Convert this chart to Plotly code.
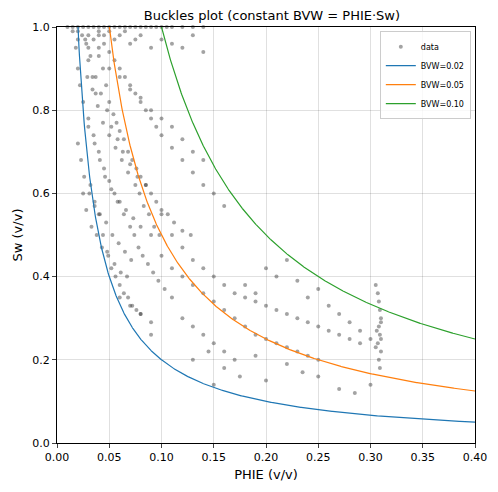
import numpy as np
import plotly.graph_objects as go

# core-ish data points (PHIE, Sw)
phie = [
 0.01,0.015,0.02,0.025,0.03,0.035,0.04,0.045,0.05,0.055,0.06,0.065,0.07,0.075,0.08,0.085,0.09,0.095,0.10,0.105,0.11,0.12,0.13,0.14,
 0.018,0.02,0.022,0.025,0.027,0.03,0.032,0.035,0.037,0.04,0.042,0.045,0.048,0.05,0.052,0.055,0.058,0.06,0.063,0.066,0.07,0.073,0.077,0.08,0.085,0.09,
 0.02,0.023,0.026,0.029,0.031,0.034,0.036,0.039,0.041,0.044,0.047,0.05,0.053,0.056,0.059,0.062,0.065,0.068,0.071,0.075,0.079,0.083,0.088,0.093,0.098,
 0.025,0.028,0.03,0.033,0.036,0.038,0.041,0.043,0.046,0.049,0.052,0.055,0.058,0.061,0.064,0.067,0.07,0.074,0.078,0.082,0.087,0.092,0.097,0.103,0.11,
 0.03,0.034,0.037,0.04,0.044,0.047,0.05,0.054,0.057,0.06,0.064,0.068,0.072,0.076,0.08,0.085,0.09,0.095,0.1,0.106,0.112,0.12,0.128,
 0.04,0.045,0.05,0.055,0.06,0.065,0.07,0.075,0.08,0.085,0.09,0.095,0.1,0.11,0.12,0.13,0.14,0.15,0.16,
 0.06,0.07,0.08,0.09,0.1,0.11,0.12,0.13,0.14,0.15,0.16,0.17,0.18,0.19,0.2,0.21,0.22,0.23,0.24,0.25,
 0.09,0.1,0.11,0.12,0.13,0.14,0.15,0.16,0.17,0.18,0.19,0.2,0.21,0.22,0.23,0.24,0.25,0.26,0.27,0.28,0.29,
 0.12,0.13,0.14,0.15,0.16,0.17,0.18,0.19,0.2,0.21,0.22,0.23,0.24,0.25,0.26,0.27,0.28,0.29,0.3,
 0.13,0.145,0.15,0.16,0.175,0.19,0.2,0.22,0.235,0.25,0.27,0.285,0.3,
 0.305,0.307,0.308,0.309,0.31,0.31,0.308,0.306,0.309,0.31,0.307,0.305,0.31,0.308,0.309,
 0.03,0.035,0.04,0.045,0.05,0.055,0.06,0.065,0.07,0.075,0.08,0.09,0.1,0.11,0.12,0.13,0.14,
 0.02,0.024,0.028,0.032,0.036,0.04,0.044,0.048,0.052,0.056,0.06,0.064,0.068,0.072,0.076,0.08,
 0.015,0.02,0.03,0.04,0.05,0.06,0.07,0.08,0.09,0.1,0.11,0.12,0.13,0.14,
]
sw = [
 1.0,1.0,1.0,1.0,1.0,1.0,1.0,1.0,1.0,1.0,1.0,1.0,1.0,1.0,1.0,1.0,1.0,1.0,1.0,1.0,1.0,1.0,1.0,1.0,
 0.95,0.9,0.86,0.82,0.97,0.78,0.93,0.74,0.88,0.7,0.84,0.66,0.8,0.63,0.76,0.6,0.73,0.58,0.7,0.56,0.67,0.54,0.64,0.52,0.62,0.5,
 0.72,0.68,0.64,0.88,0.6,0.85,0.57,0.81,0.55,0.77,0.53,0.74,0.5,0.71,0.48,0.68,0.46,0.65,0.44,0.62,0.6,0.57,0.55,0.52,0.5,
 0.6,0.56,0.76,0.52,0.72,0.5,0.68,0.47,0.64,0.45,0.61,0.43,0.58,0.41,0.55,0.4,0.52,0.5,0.47,0.45,0.43,0.41,0.39,0.37,0.35,
 0.92,0.88,0.84,0.95,0.9,0.86,0.82,0.79,0.77,0.75,0.73,0.7,0.68,0.66,0.64,0.62,0.6,0.58,0.56,0.55,0.53,0.51,0.5,
 0.98,0.96,0.94,0.92,0.9,0.88,0.86,0.84,0.82,0.8,0.78,0.76,0.74,0.71,0.68,0.65,0.62,0.6,0.57,
 0.35,0.33,0.31,0.29,0.45,0.42,0.4,0.38,0.36,0.34,0.32,0.3,0.28,0.26,0.25,0.24,0.23,0.22,0.21,0.2,
 0.26,0.55,0.5,0.47,0.44,0.42,0.4,0.38,0.36,0.35,0.34,0.33,0.32,0.31,0.3,0.29,0.28,0.27,0.26,0.25,0.24,
 0.3,0.28,0.26,0.24,0.22,0.2,0.38,0.36,0.42,0.4,0.44,0.39,0.35,0.37,0.33,0.31,0.29,0.27,0.25,
 0.2,0.22,0.14,0.18,0.16,0.21,0.15,0.19,0.17,0.16,0.13,0.12,0.14,
 0.38,0.36,0.34,0.32,0.3,0.29,0.28,0.27,0.26,0.25,0.24,0.23,0.22,0.2,0.18,
 0.98,0.97,0.99,0.98,0.99,0.97,0.98,0.99,0.96,0.97,0.98,0.95,0.97,0.96,0.95,0.98,0.94,
 0.99,0.98,0.96,0.62,0.58,0.55,0.5,0.46,0.42,0.4,0.38,0.36,0.35,0.33,0.32,0.31,
 0.99,0.97,0.95,0.93,0.9,0.88,0.85,0.83,0.8,0.78,0.76,0.73,0.7,0.68,
]

bvw_values = [0.02, 0.05, 0.10]
bvw_colors = ["#1f77b4", "#ff7f0e", "#2ca02c"]

fig = go.Figure()
fig.add_trace(go.Scatter(x=phie, y=sw, mode="markers", name="data", cliponaxis=False,
                         marker=dict(color="rgba(50,50,50,0.45)", size=4)))
grid = np.linspace(0.001, 0.4, 800)
for b, c in zip(bvw_values, bvw_colors):
    fig.add_trace(go.Scatter(x=grid, y=b / grid, mode="lines", name=f"BVW={b:.2f}",
                             line=dict(color=c, width=1.2)))

# the page adds an 8px offset, so margins are shifted to compensate
fig.update_layout(
    width=498, height=492, plot_bgcolor="white", paper_bgcolor="white",
    margin=dict(l=49, r=31, t=19, b=57, autoexpand=False),
    font=dict(family="DejaVu Sans", size=11, color="black"),
    title=dict(text="Buckles plot (constant BVW = PHIE·Sw)", x=0.53, xanchor="center",
               y=0.995, font=dict(size=13)),
    legend=dict(x=0.99, y=0.99, xanchor="right", yanchor="top", font=dict(size=8),
                bordercolor="#ccc", borderwidth=1, bgcolor="rgba(255,255,255,0.8)",
                tracegroupgap=0, itemwidth=30),
)
ax = dict(showline=True, linecolor="black", mirror=True, ticks="outside", ticklen=4,
          gridcolor="rgba(0,0,0,0.12)", zeroline=False, automargin=False)
fig.update_xaxes(range=[0, 0.4], dtick=0.05, tickformat=".2f",
                 title=dict(text="PHIE (v/v)", standoff=6), **ax)
fig.update_yaxes(range=[0, 1.0], dtick=0.2, tickformat=".1f",
                 title=dict(text="Sw (v/v)", standoff=6), **ax)
fig.write_html("out.html")
